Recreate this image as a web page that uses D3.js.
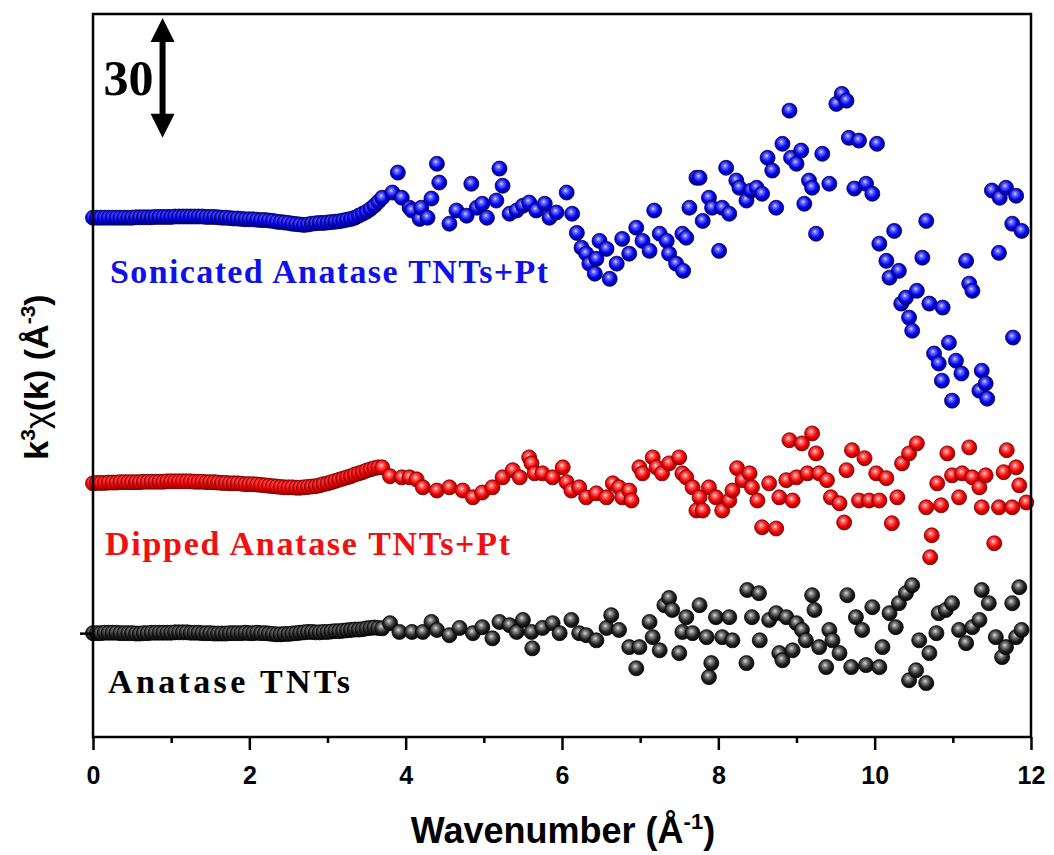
<!DOCTYPE html>
<html>
<head>
<meta charset="utf-8">
<script src="https://d3js.org/d3.v7.min.js"></script>
<style>
  body { margin: 0; background: #fff; }
  svg { display: block; }
</style>
</head>
<body>
<div id="chart"></div>
<script>
// x ticks
const majorTicks = [0, 2, 4, 6, 8, 10, 12];
const minorTicks = [1, 3, 5, 7, 9, 11];

// vertical offsets of the stacked spectra
const offsetBlack = 0;
const offsetRed = 37.5;
const offsetBlue = 104;

// scale bar (30 units)
const scaleBarK = 0.89;
const scaleBarFrom = 124;
const scaleBarSpan = 30;

// Anatase TNTs  [k, k3chi]
const blackPoints = [
  [0, 0], [0.05, 0], [0.1, 0], [0.15, 0.1], [0.2, 0.1], [0.25, 0.1], [0.3, 0.1], [0.35, 0], [0.4, 0], [0.45, 0],
  [0.5, 0], [0.55, -0.1], [0.6, -0.1], [0.65, 0], [0.7, 0], [0.75, 0.1], [0.8, 0.1], [0.85, 0.1], [0.9, 0.1], [0.95, 0.1],
  [1.0, 0.1], [1.05, 0.2], [1.1, 0.2], [1.15, 0.2], [1.2, 0.2], [1.25, 0.1], [1.3, 0.1], [1.35, 0.1], [1.4, 0], [1.45, 0],
  [1.5, 0], [1.55, -0.1], [1.6, -0.1], [1.65, -0.1], [1.7, -0.1], [1.75, 0], [1.8, 0], [1.85, 0], [1.9, 0], [1.95, 0.1],
  [2.0, 0], [2.05, 0], [2.1, 0.1], [2.15, 0], [2.2, 0], [2.25, -0.1], [2.3, -0.2], [2.35, -0.3], [2.4, -0.3], [2.45, -0.2],
  [2.5, -0.2], [2.55, -0.1], [2.6, 0], [2.65, 0.1], [2.7, 0.2], [2.75, 0.3], [2.8, 0.3], [2.85, 0.2], [2.9, 0.2], [2.95, 0.3],
  [3.0, 0.3], [3.05, 0.4], [3.1, 0.5], [3.15, 0.5], [3.2, 0.6], [3.25, 0.7], [3.3, 0.8], [3.35, 0.9], [3.4, 0.9], [3.45, 1.0],
  [3.5, 1.2], [3.55, 1.3], [3.6, 1.4], [3.65, 1.3], [3.7, 1.2],
  [3.80, 2.5], [3.92, 0.3], [4.08, 0.3], [4.22, 0.3], [4.33, 2.8], [4.40, 0.8], [4.56, -0.5], [4.69, 1.3],
  [4.86, 0], [4.98, 1.5], [5.11, -1.3], [5.20, 2.8], [5.33, 2], [5.42, 0.3], [5.50, 3.3], [5.61, 0.3],
  [5.62, -3.8], [5.75, 1.3], [5.88, 2.5], [5.97, 0], [6.12, 3.3], [6.22, 0], [6.31, -0.5], [6.44, -1.8],
  [6.57, 1.3], [6.63, 4.5], [6.73, 0.8], [6.86, -3.5], [6.95, -8.8], [6.99, -3.5], [7.12, 2.8], [7.16, -1],
  [7.25, -4.3], [7.31, 7], [7.37, 8.8], [7.41, 5.8], [7.50, -5], [7.54, 0.3], [7.59, 4], [7.67, 0],
  [7.76, 7], [7.85, -1], [7.88, -11], [7.91, -7.5], [7.97, 4], [8.05, -1], [8.14, 4], [8.18, -1.8],
  [8.36, -7.5], [8.37, 10.8], [8.43, 4], [8.52, 10], [8.53, -1.8], [8.65, 3.3], [8.74, 5], [8.78, -5],
  [8.82, -6.8], [8.87, 4], [8.95, -4.3], [9.00, 2.5], [9.07, 0.8], [9.12, -1.8], [9.20, 9.5], [9.23, 5.8],
  [9.29, -3.5], [9.38, -8.5], [9.42, 0.8], [9.46, -1.8], [9.55, -5], [9.65, 9.5], [9.70, -8.5], [9.76, 4],
  [9.84, 0.8], [9.89, -8], [9.97, 6.5], [10.06, -8.5], [10.10, -3.5], [10.19, 5], [10.27, 1.5], [10.31, 7.5],
  [10.40, 10], [10.44, -11.8], [10.48, 12], [10.53, -9.3], [10.57, -1.8], [10.66, -12.5], [10.70, -5], [10.79, 0],
  [10.82, 5], [10.91, 5.8], [10.99, 7.5], [11.08, 0.8], [11.17, -2.5], [11.25, 1.5], [11.34, 3.3], [11.37, 10.8],
  [11.46, 7.5], [11.55, -1], [11.63, -6], [11.68, -3.5], [11.76, 7.5], [11.81, -1], [11.85, 11.5], [11.88, 0.8]
];

// Dipped Anatase TNTs+Pt
const redPoints = [
  [0, 0], [0.05, 0.1], [0.1, 0.1], [0.15, 0.1], [0.2, 0.2], [0.25, 0.2], [0.3, 0.2], [0.35, 0.3], [0.4, 0.3], [0.45, 0.3],
  [0.5, 0.3], [0.55, 0.3], [0.6, 0.3], [0.65, 0.4], [0.7, 0.4], [0.75, 0.4], [0.8, 0.4], [0.85, 0.4], [0.9, 0.4], [0.95, 0.5],
  [1.0, 0.5], [1.05, 0.5], [1.1, 0.5], [1.15, 0.5], [1.2, 0.5], [1.25, 0.5], [1.3, 0.4], [1.35, 0.4], [1.4, 0.4], [1.45, 0.3],
  [1.5, 0.3], [1.55, 0.3], [1.6, 0.2], [1.65, 0.1], [1.7, 0.1], [1.75, 0], [1.8, 0], [1.85, 0], [1.9, -0.1], [1.95, -0.2],
  [2.0, -0.2], [2.05, -0.2], [2.1, -0.3], [2.15, -0.4], [2.2, -0.5], [2.25, -0.6], [2.3, -0.7], [2.35, -0.8], [2.4, -0.9], [2.45, -1],
  [2.5, -1], [2.55, -1], [2.6, -1.1], [2.65, -1.1], [2.7, -1], [2.75, -0.9], [2.8, -0.8], [2.85, -0.7], [2.9, -0.5], [2.95, -0.2],
  [3.0, 0], [3.05, 0.3], [3.1, 0.6], [3.15, 0.9], [3.2, 1.2], [3.25, 1.5], [3.3, 1.8], [3.35, 2.2], [3.4, 2.5], [3.45, 2.8],
  [3.5, 3.2], [3.55, 3.5], [3.6, 3.8], [3.65, 4], [3.7, 4],
  [3.80, 1.8], [3.95, 1.5], [4.05, 1.5], [4.14, 1], [4.22, -1], [4.40, -1.8], [4.56, -1], [4.73, -1.8],
  [4.86, -3.5], [4.98, -2.3], [5.11, -1], [5.24, 1.5], [5.37, 3.3], [5.46, 1.5], [5.58, 6.5], [5.61, 5],
  [5.65, 2.5], [5.75, 2.5], [5.88, 1.5], [6.01, 4], [6.06, 0.3], [6.12, -1.8], [6.22, -1], [6.31, -3.5],
  [6.44, -2.5], [6.57, -3.5], [6.65, 0], [6.73, -1], [6.77, -3.5], [6.86, -1.8], [6.89, -4.3], [6.99, 4],
  [7.03, 2.5], [7.16, 6.5], [7.21, 4], [7.28, 2.5], [7.37, 5], [7.50, 6.5], [7.54, 2.5], [7.59, 1.5],
  [7.67, -1], [7.72, -6.8], [7.76, -3.5], [7.80, -6.8], [7.88, -1], [7.97, -3.5], [8.05, -6.8], [8.14, -4.3],
  [8.18, -1.8], [8.24, 3.8], [8.31, 0.8], [8.40, 2.5], [8.43, -1], [8.50, -4.3], [8.56, -11], [8.65, 0],
  [8.74, -11.3], [8.78, -3.5], [8.87, 0.8], [8.91, 10.8], [8.95, -4.3], [9.00, 1.5], [9.07, 10], [9.14, 2.5],
  [9.20, 12.5], [9.25, 7.5], [9.29, 2.5], [9.39, 0.8], [9.44, -3.5], [9.55, -5], [9.61, -9.8], [9.64, 3.3],
  [9.71, 8.3], [9.80, -4.3], [9.87, 6.3], [9.93, -4.3], [10.02, 2.5], [10.06, -4.3], [10.15, 1.3], [10.22, -10],
  [10.29, -3.5], [10.35, 5], [10.44, 7.5], [10.54, 10], [10.66, -6], [10.71, -18.5], [10.73, -13], [10.80, 0],
  [10.85, -5.5], [10.93, 7.5], [10.99, 2], [11.08, -3.5], [11.12, 2.5], [11.21, 9], [11.25, 1.5], [11.34, -1],
  [11.37, -6], [11.42, 2], [11.53, -15], [11.59, -6], [11.65, 2.8], [11.69, 8.3], [11.76, -6], [11.81, 4],
  [11.85, -0.5], [11.94, -4.8]
];

// Sonicated Anatase TNTs+Pt
const bluePoints = [
  [0, 0], [0.05, 0], [0.1, 0], [0.15, 0], [0.2, 0], [0.25, 0], [0.3, 0], [0.35, 0], [0.4, 0], [0.45, 0],
  [0.5, 0], [0.55, 0.1], [0.6, 0.1], [0.65, 0.1], [0.7, 0.1], [0.75, 0.1], [0.8, 0.2], [0.85, 0.2], [0.9, 0.2], [0.95, 0.2],
  [1.0, 0.2], [1.05, 0.3], [1.1, 0.3], [1.15, 0.3], [1.2, 0.3], [1.25, 0.3], [1.3, 0.3], [1.35, 0.3], [1.4, 0.3], [1.45, 0.2],
  [1.5, 0.2], [1.55, 0.2], [1.6, 0.1], [1.65, 0], [1.7, 0], [1.75, -0.1], [1.8, -0.2], [1.85, -0.2], [1.9, -0.3], [1.95, -0.4],
  [2.0, -0.4], [2.05, -0.4], [2.1, -0.5], [2.15, -0.6], [2.2, -0.6], [2.25, -0.7], [2.3, -0.8], [2.35, -1], [2.4, -1.1], [2.45, -1.2],
  [2.5, -1.3], [2.55, -1.5], [2.6, -1.6], [2.65, -1.7], [2.7, -1.8], [2.75, -1.7], [2.8, -1.5], [2.85, -1.4], [2.9, -1.3], [2.95, -1.3],
  [3.0, -1.2], [3.05, -1.1], [3.1, -1], [3.15, -0.9], [3.2, -0.7], [3.25, -0.5], [3.3, -0.3], [3.35, 0], [3.4, 0.5], [3.45, 1],
  [3.5, 1.5], [3.55, 2.2], [3.6, 3], [3.65, 4], [3.7, 5],
  [3.83, 6.3], [3.90, 11.3], [3.95, 5], [4.05, 2.5], [4.08, 1.8], [4.18, -0.3], [4.20, 2.5], [4.28, 0],
  [4.33, 4.8], [4.40, 13.5], [4.43, 8.8], [4.56, -1.5], [4.65, 1.8], [4.78, 0.5], [4.84, 8.5], [4.91, 2.5],
  [4.98, 3.5], [5.04, 0], [5.16, 4.3], [5.20, 12.3], [5.24, 8], [5.33, 1], [5.42, 1.8], [5.50, 3],
  [5.58, 3.8], [5.67, 1.8], [5.78, 3.5], [5.84, 0], [5.93, 1.3], [6.06, 6.3], [6.13, 1], [6.19, -3.8],
  [6.25, -7.5], [6.31, -9], [6.35, -11.5], [6.42, -14], [6.44, -10.3], [6.48, -5.8], [6.57, -7.8], [6.61, -15.3],
  [6.70, -11.5], [6.77, -5.3], [6.86, -9], [6.95, -2.5], [7.03, -5.8], [7.12, -8.3], [7.18, 1.8], [7.25, -4],
  [7.34, -5.8], [7.37, -9], [7.46, -11.5], [7.54, -4], [7.55, -13.3], [7.59, -5], [7.63, 2.5], [7.72, 10],
  [7.76, 10], [7.80, -0.8], [7.88, 5], [7.92, 2.5], [8.01, -8.3], [8.05, 2.5], [8.10, 12.5], [8.14, 1],
  [8.23, 9.3], [8.27, 7.5], [8.36, 4.3], [8.42, 6.8], [8.49, 7.5], [8.56, 6], [8.63, 15], [8.69, 11.8],
  [8.74, 2.5], [8.82, 18.5], [8.91, 26.8], [8.93, 15], [9.00, 13.5], [9.06, 16.8], [9.10, 3.5], [9.16, 9.3],
  [9.20, 7.5], [9.25, -4], [9.33, 16], [9.42, 8.5], [9.51, 28.5], [9.58, 31], [9.64, 29.3], [9.67, 20],
  [9.74, 7.3], [9.80, 19.3], [9.89, 8.5], [9.97, 6], [10.03, 18.5], [10.06, -6.5], [10.15, -10.8], [10.19, -15],
  [10.25, -3.3], [10.31, -13.3], [10.34, -21.5], [10.40, -20], [10.44, -25], [10.48, -28.3], [10.54, -18.3], [10.61, -10],
  [10.66, -0.8], [10.70, -21.5], [10.76, -34], [10.82, -36.5], [10.86, -40.8], [10.87, -22.5], [10.95, -31.3], [10.99, -45.8],
  [11.04, -35.8], [11.11, -39], [11.17, -10.8], [11.21, -16.5], [11.25, -18.3], [11.34, -43.3], [11.37, -38.3], [11.42, -41.5],
  [11.44, -45.3], [11.50, 6.8], [11.59, -8.8], [11.60, 5], [11.68, 7.5], [11.76, -1.5], [11.77, -30], [11.81, 5.5],
  [11.88, -3.3]
];

const series = [
  { name: "Anatase TNTs", points: blackPoints, offset: offsetBlack, color: "black" },
  { name: "Dipped Anatase TNTs+Pt", points: redPoints, offset: offsetRed, color: "red" },
  { name: "Sonicated Anatase TNTs+Pt", points: bluePoints, offset: offsetBlue, color: "blue" }
];

const W = 1054, H = 855;
const plot = { left: 93, right: 1031, top: 14, bottom: 737 };

const svg = d3.select("#chart").append("svg")
  .attr("width", W)
  .attr("height", H);

const x = d3.scaleLinear().domain([0, 12]).range([plot.left, plot.right]);
const y = d3.scaleLinear().domain([-26, 155]).range([plot.bottom, plot.top]);

// shaded ball markers
const defs = svg.append("defs");
const shades = {
  blue: [["0%", "#d8d8ff"], ["22%", "#6a6aff"], ["60%", "#0000ee"], ["100%", "#000070"]],
  red: [["0%", "#ffe0e0"], ["22%", "#ff6a6a"], ["60%", "#f00000"], ["100%", "#900000"]],
  black: [["0%", "#e0e0e0"], ["22%", "#8a8a8a"], ["60%", "#252525"], ["100%", "#000000"]]
};
Object.entries(shades).forEach(([key, stops]) => {
  const g = defs.append("radialGradient")
    .attr("id", "ball-" + key)
    .attr("cx", "0.45").attr("cy", "0.42").attr("r", "0.62")
    .attr("fx", "0.42").attr("fy", "0.36");
  stops.forEach(s => g.append("stop").attr("offset", s[0]).attr("stop-color", s[1]));
});
const edge = { blue: "#00004a", red: "#6a0000", black: "#000000" };

// points
series.forEach(s => {
  svg.append("g")
    .attr("class", "series")
    .selectAll("circle")
    .data(s.points)
    .enter()
    .append("circle")
    .attr("cx", d => x(d[0]))
    .attr("cy", d => y(d[1] + s.offset))
    .attr("r", 7.5)
    .attr("fill", `url(#ball-${s.color})`)
    .attr("stroke", edge[s.color])
    .attr("stroke-width", 0.8);
});

// frame
svg.append("rect")
  .attr("x", plot.left)
  .attr("y", plot.top)
  .attr("width", plot.right - plot.left)
  .attr("height", plot.bottom - plot.top)
  .attr("fill", "none")
  .attr("stroke", "#000")
  .attr("stroke-width", 2.5);

// bottom axis
const xAxis = svg.append("g")
  .attr("class", "axis axis-x")
  .attr("transform", `translate(0,${plot.bottom})`)
  .call(d3.axisBottom(x).tickValues(majorTicks).tickSize(13).tickPadding(16).tickFormat(d3.format("d")));
xAxis.select(".domain").remove();
xAxis.selectAll(".tick line").attr("stroke", "#000").attr("stroke-width", 2.5);
xAxis.selectAll("text")
  .attr("fill", "#000")
  .style("font-family", "'Liberation Sans', Arial, sans-serif")
  .style("font-weight", "bold")
  .style("font-size", "25px");

const xMinor = svg.append("g")
  .attr("transform", `translate(0,${plot.bottom})`)
  .call(d3.axisBottom(x).tickValues(minorTicks).tickSize(6).tickFormat(""));
xMinor.select(".domain").remove();
xMinor.selectAll(".tick line").attr("stroke", "#000").attr("stroke-width", 2.5);

// left axis: a single tick at the baseline of the lowest spectrum
const yAxis = svg.append("g")
  .attr("transform", `translate(${plot.left},0)`)
  .call(d3.axisLeft(y).tickValues([offsetBlack]).tickSize(13).tickFormat(""));
yAxis.select(".domain").remove();
yAxis.selectAll(".tick line").attr("stroke", "#000").attr("stroke-width", 2.5);

// axis titles
svg.append("text")
  .attr("x", 563)
  .attr("y", 843)
  .attr("text-anchor", "middle")
  .style("font-family", "'Liberation Sans', Arial, sans-serif")
  .style("font-weight", "bold")
  .style("font-size", "36px")
  .call(t => {
    t.append("tspan").text("Wavenumber (Å");
    t.append("tspan").attr("dy", -14).style("font-size", "22px").text("-1");
    t.append("tspan").attr("dy", 14).text(")");
  });

svg.append("text")
  .attr("transform", "translate(48,377) rotate(-90)")
  .attr("text-anchor", "middle")
  .style("font-family", "'Liberation Sans', Arial, sans-serif")
  .style("font-weight", "bold")
  .style("font-size", "34px")
  .call(t => {
    t.append("tspan").text("k");
    t.append("tspan").attr("dy", -13).style("font-size", "21px").text("3");
    t.append("tspan").attr("dy", 13).style("font-weight", "normal").text("χ");
    t.append("tspan").text("(k) (Å");
    t.append("tspan").attr("dy", -13).style("font-size", "21px").text("-3");
    t.append("tspan").attr("dy", 13).text(")");
  });

// series labels
const labels = [
  { text: "Sonicated Anatase TNTs+Pt", color: "#1010e8", x: 110, y: 283, len: 438 },
  { text: "Dipped Anatase TNTs+Pt", color: "#f01010", x: 105, y: 555, len: 405 },
  { text: "Anatase TNTs", color: "#000", x: 108, y: 693, len: 242 }
];
svg.selectAll(".series-label")
  .data(labels)
  .enter()
  .append("text")
  .attr("class", "series-label")
  .attr("x", d => d.x)
  .attr("y", d => d.y)
  .attr("fill", d => d.color)
  .attr("textLength", d => d.len)
  .attr("lengthAdjust", "spacing")
  .style("font-family", "'Liberation Serif', 'Times New Roman', serif")
  .style("font-weight", "bold")
  .style("font-size", "34px")
  .text(d => d.text);

// scale bar
const sbx = x(scaleBarK);
const sTop = y(scaleBarFrom + scaleBarSpan);
const sBot = y(scaleBarFrom);
const head = 24, halfW = 12, shaft = 3;
svg.append("path")
  .attr("d", `M${sbx},${sTop} L${sbx + halfW},${sTop + head} L${sbx + shaft},${sTop + head}
    L${sbx + shaft},${sBot - head} L${sbx + halfW},${sBot - head} L${sbx},${sBot}
    L${sbx - halfW},${sBot - head} L${sbx - shaft},${sBot - head} L${sbx - shaft},${sTop + head}
    L${sbx - halfW},${sTop + head} Z`)
  .attr("fill", "#000");

svg.append("text")
  .attr("x", sbx - 9)
  .attr("y", (sTop + sBot) / 2 + 17)
  .attr("text-anchor", "end")
  .style("font-family", "'Liberation Serif', 'Times New Roman', serif")
  .style("font-weight", "bold")
  .style("font-size", "50px")
  .text(scaleBarSpan);
</script>
</body>
</html>
